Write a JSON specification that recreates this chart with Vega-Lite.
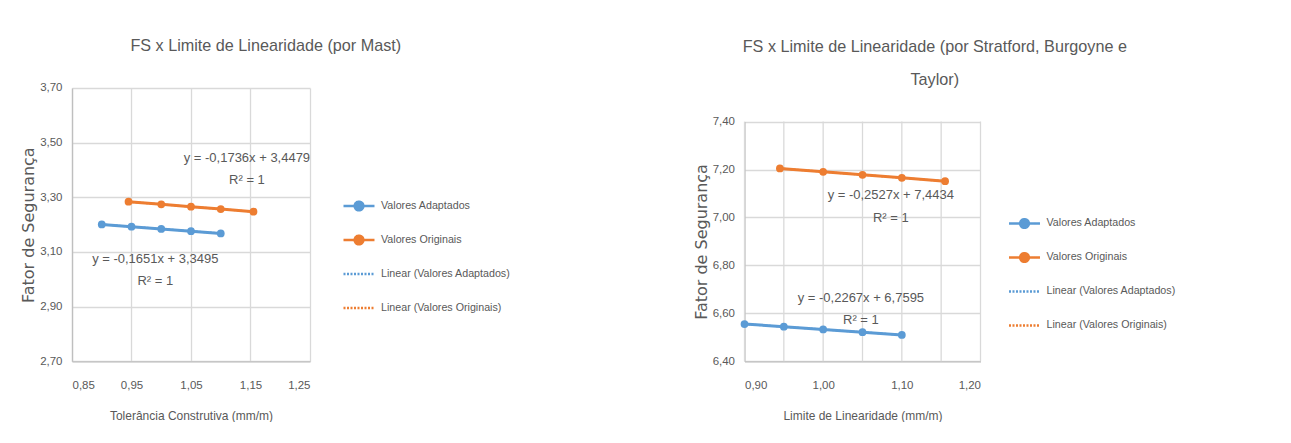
{
  "$schema": "https://vega.github.io/schema/vega-lite/v6.json",
  "padding": {"left": 20, "top": 37, "right": 0, "bottom": 0},
  "background": "white",
  "datasets": {
    "mast_pts": [
      {"serie": "Valores Adaptados", "x": 0.90, "y": 3.2009},
      {"serie": "Valores Adaptados", "x": 0.95, "y": 3.1927},
      {"serie": "Valores Adaptados", "x": 1.00, "y": 3.1844},
      {"serie": "Valores Adaptados", "x": 1.05, "y": 3.1762},
      {"serie": "Valores Adaptados", "x": 1.10, "y": 3.1679},
      {"serie": "Valores Originais", "x": 0.945, "y": 3.2838},
      {"serie": "Valores Originais", "x": 1.00, "y": 3.2743},
      {"serie": "Valores Originais", "x": 1.05, "y": 3.2656},
      {"serie": "Valores Originais", "x": 1.10, "y": 3.2569},
      {"serie": "Valores Originais", "x": 1.155, "y": 3.2474}
    ],
    "mast_lin": [
      {"serie": "Linear (Valores Adaptados)", "x": 0.90, "y": 3.2009},
      {"serie": "Linear (Valores Adaptados)", "x": 1.10, "y": 3.1679},
      {"serie": "Linear (Valores Originais)", "x": 0.945, "y": 3.2838},
      {"serie": "Linear (Valores Originais)", "x": 1.155, "y": 3.2474}
    ],
    "mast_eq": [
      {"label": "y = -0,1736x + 3,4479", "x": 1.144, "y": 3.445},
      {"label": "R² = 1", "x": 1.144, "y": 3.362},
      {"label": "y = -0,1651x + 3,3495", "x": 0.99, "y": 3.073},
      {"label": "R² = 1", "x": 0.99, "y": 2.993}
    ],
    "sbt_pts": [
      {"serie": "Valores Adaptados", "x": 0.90, "y": 6.5555},
      {"serie": "Valores Adaptados", "x": 0.95, "y": 6.5442},
      {"serie": "Valores Adaptados", "x": 1.00, "y": 6.5328},
      {"serie": "Valores Adaptados", "x": 1.05, "y": 6.5215},
      {"serie": "Valores Adaptados", "x": 1.10, "y": 6.5101},
      {"serie": "Valores Originais", "x": 0.945, "y": 7.2046},
      {"serie": "Valores Originais", "x": 1.00, "y": 7.1907},
      {"serie": "Valores Originais", "x": 1.05, "y": 7.1781},
      {"serie": "Valores Originais", "x": 1.10, "y": 7.1654},
      {"serie": "Valores Originais", "x": 1.155, "y": 7.1515}
    ],
    "sbt_lin": [
      {"serie": "Linear (Valores Adaptados)", "x": 0.90, "y": 6.5555},
      {"serie": "Linear (Valores Adaptados)", "x": 1.10, "y": 6.5101},
      {"serie": "Linear (Valores Originais)", "x": 0.945, "y": 7.2046},
      {"serie": "Linear (Valores Originais)", "x": 1.155, "y": 7.1515}
    ],
    "sbt_eq": [
      {"label": "y = -0,2527x + 7,4434", "x": 1.086, "y": 7.093},
      {"label": "R² = 1", "x": 1.086, "y": 6.998},
      {"label": "y = -0,2267x + 6,7595", "x": 1.048, "y": 6.665},
      {"label": "R² = 1", "x": 1.048, "y": 6.571}
    ],
    "sbt_grid": [
      {"x": 0.90}, {"x": 0.95}, {"x": 1.00}, {"x": 1.05}, {"x": 1.10}, {"x": 1.15}, {"x": 1.20}
    ]
  },
  "resolve": {"scale": {"color": "independent"}, "legend": {"color": "independent"}},
  "spacing": 181.5,
  "hconcat": [
    {
      "title": {"text": "FS x Limite de Linearidade (por Mast)", "offset": 28},
      "width": 238,
      "height": 273.3,
      "layer": [
        {
          "data": {"name": "mast_lin"},
          "mark": {"type": "line", "strokeWidth": 2, "strokeDash": [2, 1.5]},
          "encoding": {
            "x": {"field": "x", "type": "quantitative", "scale": {"domain": [0.85, 1.25], "nice": false, "zero": false},
                  "axis": {"title": "Tolerância Construtiva (mm/m)", "values": [0.85, 0.95, 1.05, 1.15, 1.25], "labelExpr": "replace(format(datum.value, '.2f'), '.', ',')"}},
            "y": {"field": "y", "type": "quantitative", "scale": {"domain": [2.7, 3.7], "nice": false, "zero": false},
                  "axis": {"title": "Fator de Segurança", "values": [2.7, 2.9, 3.1, 3.3, 3.5, 3.7], "labelExpr": "replace(format(datum.value, '.2f'), '.', ',')"}},
            "color": {"field": "serie", "type": "nominal",
              "scale": {"domain": ["Valores Adaptados", "Valores Originais", "Linear (Valores Adaptados)", "Linear (Valores Originais)"], "range": ["#5B9BD5", "#ED7D31", "#5B9BD5", "#ED7D31"]},
              "legend": {"title": " ", "titleFontSize": 1, "titlePadding": 102, "orient": "right", "offset": 32,
                "encode": {"symbols": {"update": {
                  "shape": {"signal": "indexof(datum.value,'Linear')==0 ? 'M-1,0L1,0' : 'M-1,0L-0.28,0M0.28,0L1,0M-0.28,0A0.28,0.28 0 1,1 0.28,0A0.28,0.28 0 1,1 -0.28,0'"},
                  "stroke": {"signal": "indexof(datum.value,'Adaptados')>=0 ? '#5B9BD5' : '#ED7D31'"},
                  "fill": {"signal": "indexof(datum.value,'Adaptados')>=0 ? '#5B9BD5' : '#ED7D31'"},
                  "strokeDash": {"signal": "indexof(datum.value,'Linear')==0 ? [2,1.5] : [1,0]"},
                  "opacity": {"value": 1}
                }}}}}
          }
        },
        {
          "data": {"name": "mast_pts"},
          "mark": {"type": "line", "strokeWidth": 3, "point": {"size": 60, "filled": true, "opacity": 1}},
          "encoding": {
            "x": {"field": "x", "type": "quantitative"},
            "y": {"field": "y", "type": "quantitative"},
            "color": {"field": "serie", "type": "nominal"}
          }
        },
        {
          "data": {"name": "mast_eq"},
          "mark": {"type": "text", "font": "Liberation Sans", "fontSize": 13, "color": "#595959", "align": "center", "baseline": "middle"},
          "encoding": {
            "x": {"field": "x", "type": "quantitative"},
            "y": {"field": "y", "type": "quantitative"},
            "text": {"field": "label"}
          }
        }
      ]
    },
    {
      "title": {"text": ["FS x Limite de Linearidade  (por Stratford, Burgoyne e", "Taylor)"], "offset": 0},
      "width": 236,
      "height": 273.3,
      "layer": [
        {
          "data": {"name": "sbt_grid"},
          "mark": {"type": "rule", "color": "#D9D9D9", "strokeWidth": 1.3},
          "encoding": {
            "x": {"field": "x", "type": "quantitative", "scale": {"domain": [0.9, 1.2], "nice": false, "zero": false},
                  "axis": {"title": "Limite de Linearidade (mm/m)", "grid": false, "values": [0.9, 0.95, 1.0, 1.05, 1.1, 1.15, 1.2], "labelExpr": "replace(format(datum.value, '.2f'), '.', ',')"}},
            "y": {"datum": 6.4, "type": "quantitative", "scale": {"domain": [6.4, 7.4], "range": [273.3, 33.6], "nice": false, "zero": false},
                  "axis": {"title": "Fator de Segurança", "grid": true, "values": [6.4, 6.6, 6.8, 7.0, 7.2, 7.4], "labelExpr": "replace(format(datum.value, '.2f'), '.', ',')"}},
            "y2": {"datum": 7.4}
          }
        },
        {
          "data": {"name": "sbt_lin"},
          "mark": {"type": "line", "strokeWidth": 2, "strokeDash": [2, 1.5]},
          "encoding": {
            "x": {"field": "x", "type": "quantitative"},
            "y": {"field": "y", "type": "quantitative"},
            "color": {"field": "serie", "type": "nominal",
              "scale": {"domain": ["Valores Adaptados", "Valores Originais", "Linear (Valores Adaptados)", "Linear (Valores Originais)"], "range": ["#5B9BD5", "#ED7D31", "#5B9BD5", "#ED7D31"]},
              "legend": {"title": " ", "titleFontSize": 1, "titlePadding": 119.5, "orient": "right", "offset": 27,
                "encode": {"symbols": {"update": {
                  "shape": {"signal": "indexof(datum.value,'Linear')==0 ? 'M-1,0L1,0' : 'M-1,0L-0.28,0M0.28,0L1,0M-0.28,0A0.28,0.28 0 1,1 0.28,0A0.28,0.28 0 1,1 -0.28,0'"},
                  "stroke": {"signal": "indexof(datum.value,'Adaptados')>=0 ? '#5B9BD5' : '#ED7D31'"},
                  "fill": {"signal": "indexof(datum.value,'Adaptados')>=0 ? '#5B9BD5' : '#ED7D31'"},
                  "strokeDash": {"signal": "indexof(datum.value,'Linear')==0 ? [2,1.5] : [1,0]"},
                  "opacity": {"value": 1}
                }}}}}
          }
        },
        {
          "data": {"name": "sbt_pts"},
          "mark": {"type": "line", "strokeWidth": 3, "point": {"size": 60, "filled": true, "opacity": 1}},
          "encoding": {
            "x": {"field": "x", "type": "quantitative"},
            "y": {"field": "y", "type": "quantitative"},
            "color": {"field": "serie", "type": "nominal"}
          }
        },
        {
          "data": {"name": "sbt_eq"},
          "mark": {"type": "text", "font": "Liberation Sans", "fontSize": 13, "color": "#595959", "align": "center", "baseline": "middle"},
          "encoding": {
            "x": {"field": "x", "type": "quantitative"},
            "y": {"field": "y", "type": "quantitative"},
            "text": {"field": "label"}
          }
        }
      ]
    }
  ],
  "config": {
    "view": {"stroke": null},
    "title": {"font": "Liberation Sans", "fontSize": 16.2, "fontWeight": "normal", "color": "#595959", "anchor": "middle", "frame": "bounds", "lineHeight": 33},
    "axis": {"labelFont": "Liberation Sans", "labelFontSize": 11.5, "labelColor": "#595959", "titleColor": "#595959", "titleFontWeight": "normal", "gridColor": "#D9D9D9", "gridWidth": 1.3, "domainColor": "#BFBFBF", "domainWidth": 1.3, "ticks": false},
    "axisX": {"titleFont": "Liberation Sans", "titleFontSize": 12, "labelPadding": 18, "titlePadding": 20},
    "axisY": {"titleFont": "DejaVu Sans", "titleFontSize": 16, "labelPadding": 10, "titlePadding": 3},
    "legend": {"padding": 0, "rowPadding": 4, "clipHeight": 30, "labelFont": "Liberation Sans", "labelFontSize": 10.7, "labelColor": "#595959", "labelOffset": 5, "symbolSize": 961, "symbolStrokeWidth": 2.5}
  }
}
